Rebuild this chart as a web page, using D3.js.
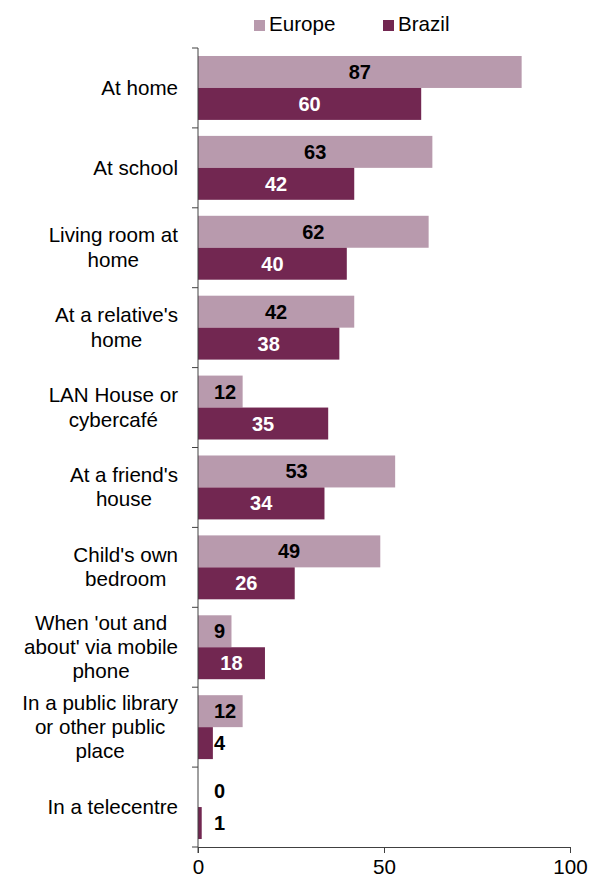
<!DOCTYPE html>
<html>
<head>
<meta charset="utf-8">
<script src="https://cdn.jsdelivr.net/npm/d3@7"></script>
<style>
  body { margin: 0; background: #fff; }
  text { font-family: "Liberation Sans", Arial, sans-serif; }
</style>
</head>
<body>
<div id="chart"></div>
<script>
// data
const categories = [
  ["At home"],
  ["At school"],
  ["Living room at", "home"],
  ["At a relative's", "home"],
  ["LAN House or", "cybercafé"],
  ["At a friend's", "house"],
  ["Child's own", "bedroom"],
  ["When 'out and", "about' via mobile", "phone"],
  ["In a public library", "or other public", "place"],
  ["In a telecentre"]
];
const seriesNames = ["Europe", "Brazil"];
const europe = [87, 63, 62, 42, 12, 53, 49, 9, 12, 0];
const brazil = [60, 42, 40, 38, 35, 34, 26, 18, 4, 1];
const xTicks = [0, 50, 100];
const colors = {Europe: "#b89aad", Brazil: "#722751"};

const margin = {top: 48, right: 26, bottom: 37, left: 198};
const W = 596, H = 884;
const width = W - margin.left - margin.right;
const height = H - margin.top - margin.bottom;

const svg = d3.select("#chart").append("svg")
  .attr("width", W)
  .attr("height", H);

const g = svg.append("g")
  .attr("transform", `translate(${margin.left},${margin.top})`);

const keys = categories.map((c, i) => i);

const x = d3.scaleLinear().domain([0, 100]).range([0, width]);
const y = d3.scaleBand().domain(keys).range([0, height])
  .paddingInner(0.2).paddingOuter(0.1);
const ySub = d3.scaleBand().domain(seriesNames).range([0, y.bandwidth()]);

const rows = keys.map(i => ({i: i, Europe: europe[i], Brazil: brazil[i]}));

// bars
const groups = g.selectAll(".grp").data(rows).join("g")
  .attr("class", "grp")
  .attr("transform", d => `translate(0,${y(d.i)})`);

groups.selectAll("rect")
  .data(d => seriesNames.map(s => ({s: s, v: d[s]})))
  .join("rect")
  .attr("x", 0)
  .attr("y", d => ySub(d.s))
  .attr("width", d => x(d.v))
  .attr("height", ySub.bandwidth())
  .attr("fill", d => colors[d.s]);

// value labels
groups.selectAll(".val")
  .data(d => seriesNames.map(s => ({s: s, v: d[s]})))
  .join("text")
  .attr("class", "val")
  .attr("x", d => {
    const w = String(d.v).length * 11.1;
    return Math.max(x(d.v) / 2, 16 + w / 2);
  })
  .attr("y", d => ySub(d.s) + ySub.bandwidth() / 2 + 7)
  .attr("text-anchor", "middle")
  .style("font-size", "20px")
  .style("font-weight", "bold")
  .attr("fill", d => (d.s === "Brazil" && d.v >= 10) ? "#fff" : "#000")
  .text(d => d.v);

// y axis: line plus ticks at band boundaries
const axisColor = "#404040";
g.append("line")
  .attr("x1", 0).attr("x2", 0)
  .attr("y1", 0).attr("y2", height + 6)
  .attr("stroke", axisColor).attr("stroke-width", 1);

const bounds = keys.map(i => y(i) - y.step() * y.paddingOuter()).concat([height]);
g.selectAll(".ytick").data(bounds).join("line")
  .attr("class", "ytick")
  .attr("x1", -6).attr("x2", 0)
  .attr("y1", d => d).attr("y2", d => d)
  .attr("stroke", axisColor).attr("stroke-width", 1);

// category labels, lines centred within a right-aligned block
const labelRight = -20;
const lineH = 24.3;
categories.forEach((lines, i) => {
  const cy = y(i) + y.bandwidth() / 2;
  const t = g.append("text")
    .attr("text-anchor", "middle")
    .style("font-size", "20.6px")
    .attr("fill", "#000");
  lines.forEach((ln, k) => {
    t.append("tspan").text(ln)
      .attr("y", cy - (lines.length - 1) * lineH / 2 + k * lineH + 6.8);
  });
  let maxW = 0;
  t.selectAll("tspan").each(function() {
    maxW = Math.max(maxW, this.getComputedTextLength());
  });
  t.selectAll("tspan").attr("x", labelRight - maxW / 2);
});

// x axis
const xAxis = g.append("g")
  .attr("transform", `translate(0,${height})`)
  .call(d3.axisBottom(x).tickValues(xTicks).tickSize(6).tickPadding(6));
xAxis.select(".domain").attr("stroke", axisColor);
xAxis.selectAll(".tick line").attr("stroke", axisColor);
xAxis.selectAll(".tick text")
  .style("font-size", "20.6px")
  .style("font-family", "'Liberation Sans', Arial, sans-serif")
  .attr("fill", "#000");

// legend
const legend = svg.append("g").attr("transform", "translate(254,20)");
const legendX = {Europe: 0, Brazil: 129};
seriesNames.forEach(s => {
  const item = legend.append("g").attr("transform", `translate(${legendX[s]},0)`);
  item.append("rect")
    .attr("x", 0).attr("y", 0)
    .attr("width", 11).attr("height", 11)
    .attr("fill", colors[s]);
  item.append("text")
    .attr("x", 15).attr("y", 11)
    .style("font-size", "20.6px")
    .attr("fill", "#000")
    .text(s);
});
</script>
</body>
</html>
